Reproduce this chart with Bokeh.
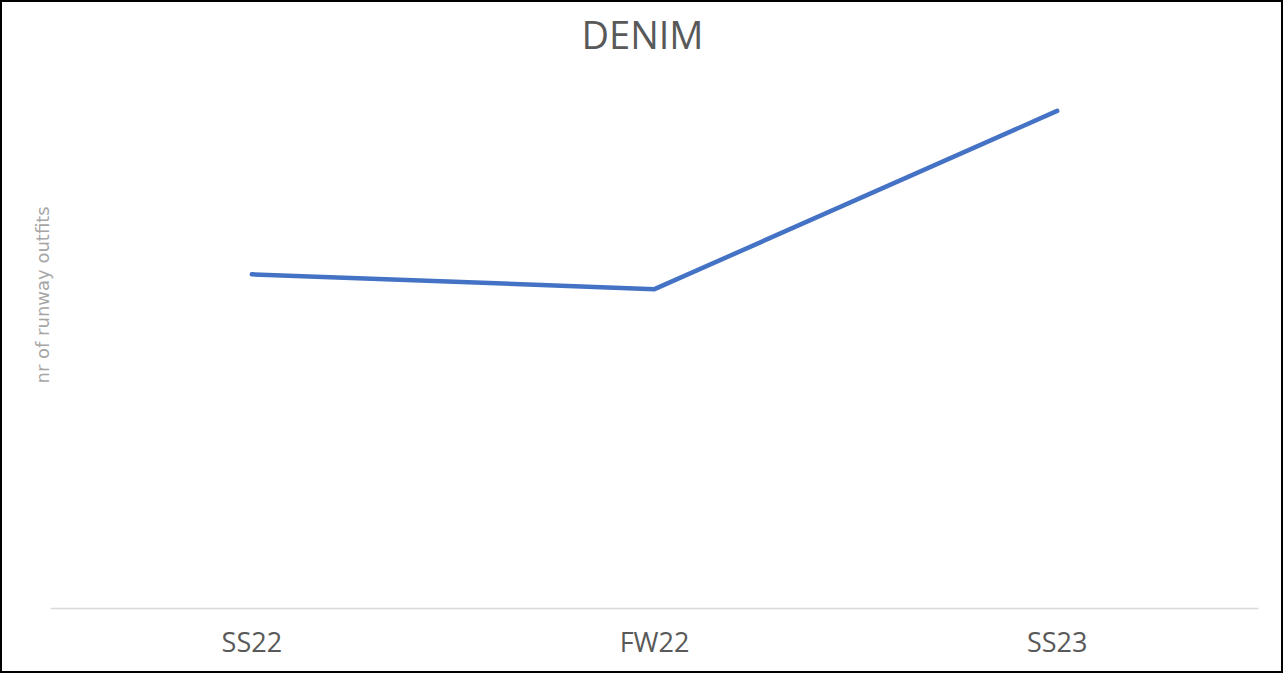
from bokeh.plotting import figure
from bokeh.models import FactorRange, Range1d, ColumnDataSource, Title, Label
from bokeh.embed import file_html
from bokeh.resources import INLINE

seasons = ["SS22", "FW22", "SS23"]
outfits = [45, 43, 67]

src = ColumnDataSource(dict(season=seasons, outfits=outfits))

p = figure(width=1283, height=673, output_backend="svg", toolbar_location=None,
           x_range=FactorRange(factors=seasons), y_range=Range1d(0, 81.6),
           min_border_left=48, min_border_right=27, min_border_top=0, min_border_bottom=67)

p.line("season", "outfits", source=src, line_color="#4472C4", line_width=4.5,
       line_cap="round", line_join="round")

title = Label(text="DENIM", x=592, y=575, x_units="screen", y_units="screen",
              text_align="center", text_baseline="alphabetic",
              text_font="Open Sans", text_font_size="38px", text_color="#595959")
p.add_layout(title)

p.outline_line_color = None
p.xgrid.grid_line_color = None
p.ygrid.grid_line_color = None

p.xaxis.axis_line_color = "#d9d9d9"
p.xaxis.axis_line_width = 1.5
p.xaxis.major_tick_line_color = None
p.xaxis.minor_tick_line_color = None
p.xaxis.major_label_text_font = "Open Sans"
p.xaxis.major_label_text_font_size = "27px"
p.xaxis.major_label_text_color = "#595959"
p.xaxis.major_label_standoff = 8

p.yaxis.visible = False

ylab = Title(text="nr of runway outfits", align="left", offset=225, standoff=-4,
             text_font="DejaVu Sans", text_font_size="18px", text_font_style="normal",
             text_color="#a6a6a6")
p.add_layout(ylab, "left")

p.styles = {"border": "2px solid black"}

open("out.html", "w").write(file_html(p, INLINE))
